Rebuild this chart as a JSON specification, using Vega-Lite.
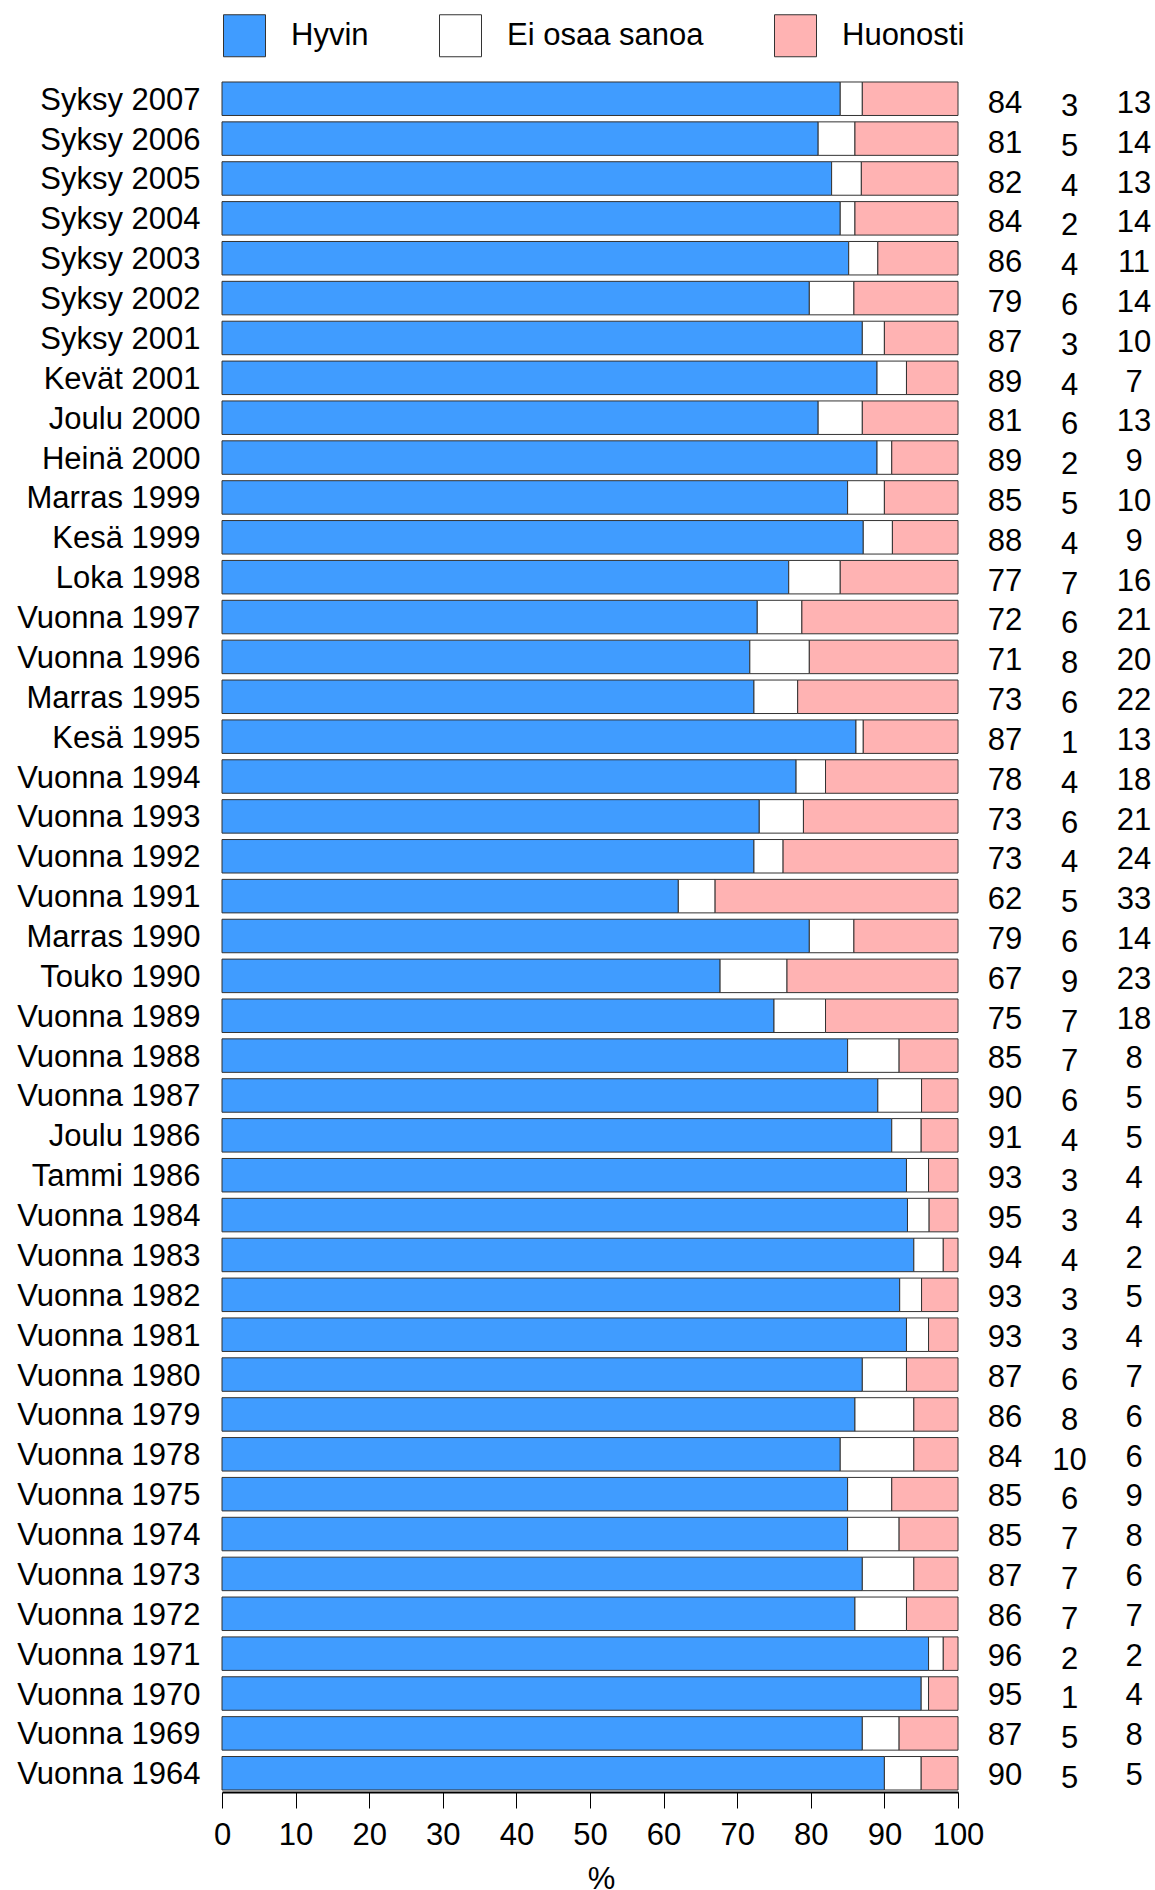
{
  "$schema": "https://vega.github.io/schema/vega-lite/v6.json",
  "padding": {"left": 16, "top": 14, "right": 0, "bottom": 0},
  "background": "white",
  "config": {
    "font": "Liberation Sans",
    "view": {"stroke": null},
    "text": {"font": "Liberation Sans"}
  },
  "data": {
    "values": [
      {"t": "Syksy 2007", "Hyvin": 84, "Ei osaa sanoa": 3, "Huonosti": 13},
      {"t": "Syksy 2006", "Hyvin": 81, "Ei osaa sanoa": 5, "Huonosti": 14},
      {"t": "Syksy 2005", "Hyvin": 82, "Ei osaa sanoa": 4, "Huonosti": 13},
      {"t": "Syksy 2004", "Hyvin": 84, "Ei osaa sanoa": 2, "Huonosti": 14},
      {"t": "Syksy 2003", "Hyvin": 86, "Ei osaa sanoa": 4, "Huonosti": 11},
      {"t": "Syksy 2002", "Hyvin": 79, "Ei osaa sanoa": 6, "Huonosti": 14},
      {"t": "Syksy 2001", "Hyvin": 87, "Ei osaa sanoa": 3, "Huonosti": 10},
      {"t": "Kevät 2001", "Hyvin": 89, "Ei osaa sanoa": 4, "Huonosti": 7},
      {"t": "Joulu 2000", "Hyvin": 81, "Ei osaa sanoa": 6, "Huonosti": 13},
      {"t": "Heinä 2000", "Hyvin": 89, "Ei osaa sanoa": 2, "Huonosti": 9},
      {"t": "Marras 1999", "Hyvin": 85, "Ei osaa sanoa": 5, "Huonosti": 10},
      {"t": "Kesä 1999", "Hyvin": 88, "Ei osaa sanoa": 4, "Huonosti": 9},
      {"t": "Loka 1998", "Hyvin": 77, "Ei osaa sanoa": 7, "Huonosti": 16},
      {"t": "Vuonna 1997", "Hyvin": 72, "Ei osaa sanoa": 6, "Huonosti": 21},
      {"t": "Vuonna 1996", "Hyvin": 71, "Ei osaa sanoa": 8, "Huonosti": 20},
      {"t": "Marras 1995", "Hyvin": 73, "Ei osaa sanoa": 6, "Huonosti": 22},
      {"t": "Kesä 1995", "Hyvin": 87, "Ei osaa sanoa": 1, "Huonosti": 13},
      {"t": "Vuonna 1994", "Hyvin": 78, "Ei osaa sanoa": 4, "Huonosti": 18},
      {"t": "Vuonna 1993", "Hyvin": 73, "Ei osaa sanoa": 6, "Huonosti": 21},
      {"t": "Vuonna 1992", "Hyvin": 73, "Ei osaa sanoa": 4, "Huonosti": 24},
      {"t": "Vuonna 1991", "Hyvin": 62, "Ei osaa sanoa": 5, "Huonosti": 33},
      {"t": "Marras 1990", "Hyvin": 79, "Ei osaa sanoa": 6, "Huonosti": 14},
      {"t": "Touko 1990", "Hyvin": 67, "Ei osaa sanoa": 9, "Huonosti": 23},
      {"t": "Vuonna 1989", "Hyvin": 75, "Ei osaa sanoa": 7, "Huonosti": 18},
      {"t": "Vuonna 1988", "Hyvin": 85, "Ei osaa sanoa": 7, "Huonosti": 8},
      {"t": "Vuonna 1987", "Hyvin": 90, "Ei osaa sanoa": 6, "Huonosti": 5},
      {"t": "Joulu 1986", "Hyvin": 91, "Ei osaa sanoa": 4, "Huonosti": 5},
      {"t": "Tammi 1986", "Hyvin": 93, "Ei osaa sanoa": 3, "Huonosti": 4},
      {"t": "Vuonna 1984", "Hyvin": 95, "Ei osaa sanoa": 3, "Huonosti": 4},
      {"t": "Vuonna 1983", "Hyvin": 94, "Ei osaa sanoa": 4, "Huonosti": 2},
      {"t": "Vuonna 1982", "Hyvin": 93, "Ei osaa sanoa": 3, "Huonosti": 5},
      {"t": "Vuonna 1981", "Hyvin": 93, "Ei osaa sanoa": 3, "Huonosti": 4},
      {"t": "Vuonna 1980", "Hyvin": 87, "Ei osaa sanoa": 6, "Huonosti": 7},
      {"t": "Vuonna 1979", "Hyvin": 86, "Ei osaa sanoa": 8, "Huonosti": 6},
      {"t": "Vuonna 1978", "Hyvin": 84, "Ei osaa sanoa": 10, "Huonosti": 6},
      {"t": "Vuonna 1975", "Hyvin": 85, "Ei osaa sanoa": 6, "Huonosti": 9},
      {"t": "Vuonna 1974", "Hyvin": 85, "Ei osaa sanoa": 7, "Huonosti": 8},
      {"t": "Vuonna 1973", "Hyvin": 87, "Ei osaa sanoa": 7, "Huonosti": 6},
      {"t": "Vuonna 1972", "Hyvin": 86, "Ei osaa sanoa": 7, "Huonosti": 7},
      {"t": "Vuonna 1971", "Hyvin": 96, "Ei osaa sanoa": 2, "Huonosti": 2},
      {"t": "Vuonna 1970", "Hyvin": 95, "Ei osaa sanoa": 1, "Huonosti": 4},
      {"t": "Vuonna 1969", "Hyvin": 87, "Ei osaa sanoa": 5, "Huonosti": 8},
      {"t": "Vuonna 1964", "Hyvin": 90, "Ei osaa sanoa": 5, "Huonosti": 5}
    ]
  },
  "transform": [
    {"fold": ["Hyvin", "Ei osaa sanoa", "Huonosti"], "as": ["k", "v"]},
    {"calculate": "indexof(['Hyvin', 'Ei osaa sanoa', 'Huonosti'], datum.k)", "as": "o"}
  ],
  "spacing": 47,
  "bounds": "flush",
  "hconcat": [
    {
      "width": 736,
      "height": 1712,
      "mark": {"type": "bar", "stroke": "#333333", "strokeWidth": 1},
      "encoding": {
        "y": {
          "field": "t", "type": "nominal", "sort": null,
          "scale": {"paddingInner": 0.16, "paddingOuter": 0.05},
          "axis": {
            "title": null, "ticks": false, "domain": false,
            "labelPadding": 22, "labelFontSize": 31, "labelColor": "#000000",
            "labelFont": "Liberation Sans", "labelLimit": 400, "labelOffset": 2
          }
        },
        "x": {
          "field": "v", "type": "quantitative", "stack": "normalize",
          "scale": {"domain": [0, 1], "nice": false},
          "axis": {
            "values": [0, 0.1, 0.2, 0.3, 0.4, 0.5, 0.6, 0.7, 0.8, 0.9, 1],
            "labelExpr": "format(datum.value * 100, '.0f')",
            "grid": false, "title": "%", "tickSize": 16, "tickColor": "#000000",
            "tickWidth": 1, "domainColor": "#000000", "domainWidth": 2,
            "labelFontSize": 31, "labelColor": "#000000", "labelFont": "Liberation Sans",
            "labelPadding": 12, "labelFlush": false,
            "titleFontSize": 31, "titleFontWeight": "normal", "titleColor": "#000000",
            "titleFont": "Liberation Sans", "titlePadding": 14, "titleX": 379
          }
        },
        "order": {"field": "o", "type": "quantitative", "sort": "ascending"},
        "color": {
          "field": "k", "type": "nominal",
          "sort": ["Hyvin", "Ei osaa sanoa", "Huonosti"],
          "scale": {"domain": ["Hyvin", "Ei osaa sanoa", "Huonosti"], "range": ["#409cff", "#ffffff", "#ffb3b3"]},
          "legend": {
            "orient": "none", "legendX": 1, "legendY": -66, "direction": "horizontal",
            "title": null, "symbolType": "square", "symbolSize": 1764,
            "symbolStrokeColor": "#333333", "symbolStrokeWidth": 1, "symbolOpacity": 1,
            "labelFontSize": 31, "labelOffset": 25, "columnPadding": 68,
            "labelFont": "Liberation Sans", "labelColor": "#000000", "labelLimit": 400
          }
        }
      }
    },
    {
      "width": 129,
      "height": 1712,
      "encoding": {
        "y": {
          "field": "t", "type": "nominal", "sort": null,
          "scale": {"paddingInner": 0.16, "paddingOuter": 0.05},
          "axis": null
        },
        "x": {
          "field": "k", "type": "nominal",
          "sort": ["Hyvin", "Ei osaa sanoa", "Huonosti"],
          "scale": {"type": "point", "padding": 0},
          "axis": null
        },
        "text": {"field": "v", "type": "quantitative"}
      },
      "layer": [
        {
          "transform": [{"filter": "datum.k !== 'Ei osaa sanoa'"}],
          "mark": {"type": "text", "fontSize": 31, "color": "#000000", "dy": 4, "font": "Liberation Sans"}
        },
        {
          "transform": [{"filter": "datum.k === 'Ei osaa sanoa'"}],
          "mark": {"type": "text", "fontSize": 31, "color": "#000000", "dy": 7, "font": "Liberation Sans"}
        }
      ]
    }
  ]
}
